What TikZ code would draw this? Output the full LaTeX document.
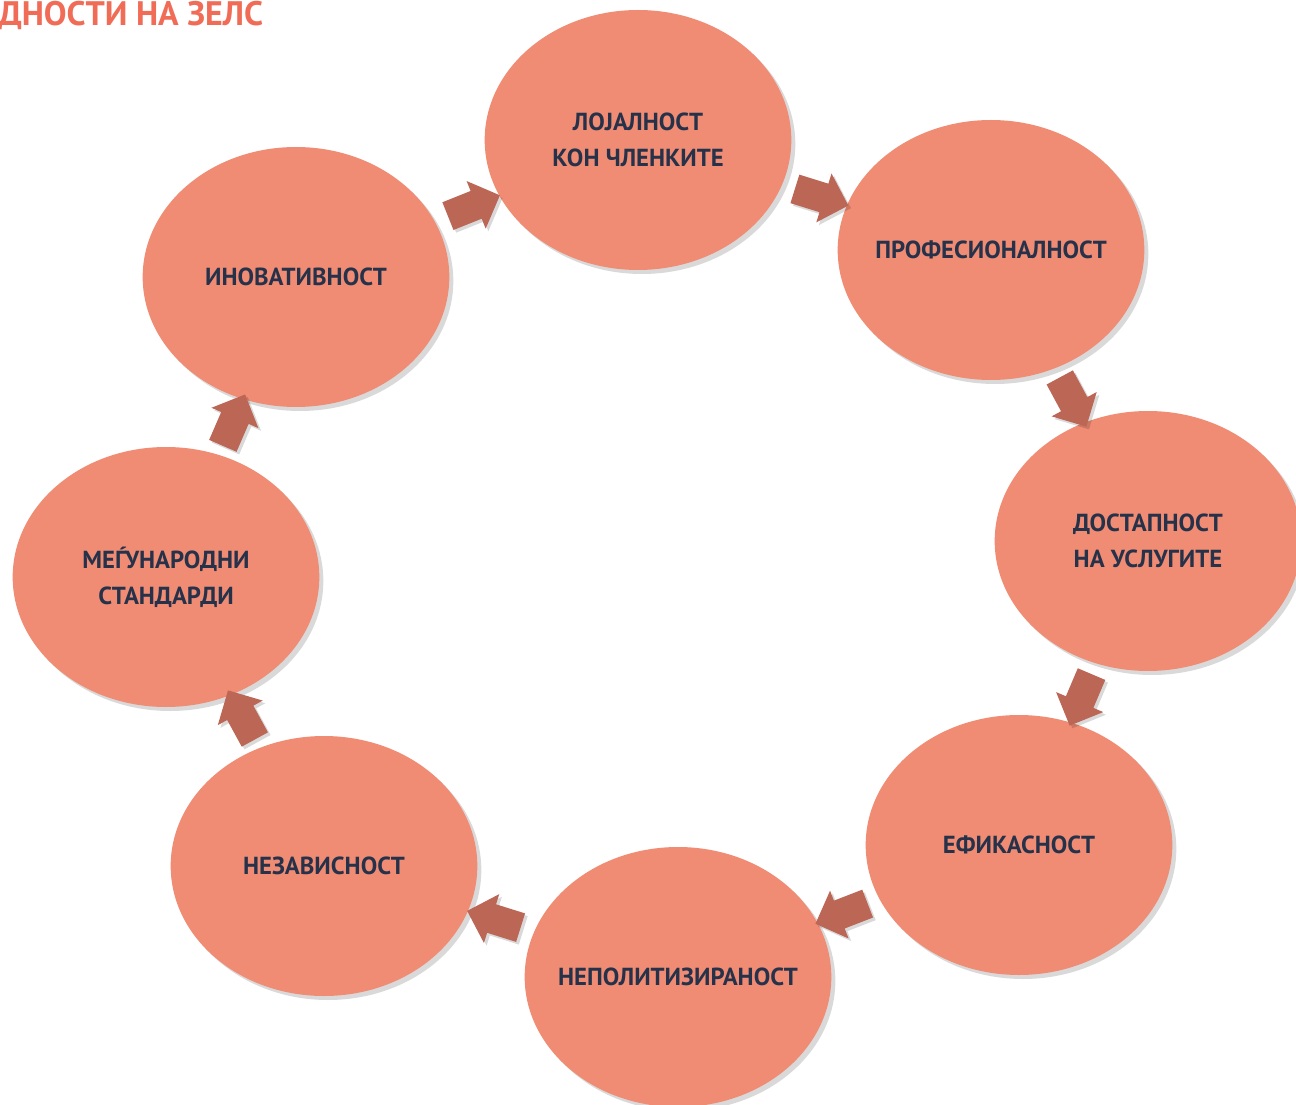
\documentclass[tikz,border=0pt]{standalone}
\usepackage{fontspec}
\setmainfont{PT Sans}
\usetikzlibrary{shapes.geometric,shapes.arrows,shadows,calc}

\definecolor{salmonfill}{RGB}{241,140,116}
\definecolor{navytext}{RGB}{38,50,74}
\definecolor{titleorange}{RGB}{241,108,86}
\definecolor{arrowfill}{RGB}{188,102,86}

\tikzset{
  valuebox/.style={ellipse, fill=salmonfill, inner sep=0pt,
    minimum width=230pt, minimum height=195pt,
    drop shadow={shadow xshift=3pt, shadow yshift=-3pt, opacity=0.15, fill=black}},
  valuetext/.style={align=center, inner sep=0pt, text=navytext,
    font=\bfseries\fontsize{18.5}{27}\selectfont},
  cyclearrow/.style={single arrow, fill=arrowfill, inner xsep=0pt, inner ysep=11pt,
    minimum height=42pt, single arrow head extend=8pt,
    drop shadow={shadow xshift=2pt, shadow yshift=-2pt, opacity=0.15, fill=black}}
}

\begin{document}
\begin{tikzpicture}[x=0.75pt,y=0.75pt,yscale=-1,xscale=1]

\useasboundingbox (0,0) rectangle (1296,1105);

% title (cut at the left edge)
\node [anchor=west, inner sep=0pt, text=titleorange, font=\bfseries\fontsize{25.5}{30}\selectfont] (title) at (-2,15) {ДНОСТИ НА ЗЕЛС};

% values
\node [valuebox, label={[valuetext]center:ЛОЈАЛНОСТ\\КОН ЧЛЕНКИТЕ}] (loyal) at (638,140) {};
\node [valuebox, label={[valuetext]center:ПРОФЕСИОНАЛНОСТ}] (prof) at (991,250) {};
\node [valuebox, label={[valuetext]center:ДОСТАПНОСТ\\НА УСЛУГИТЕ}] (access) at (1148,541) {};
\node [valuebox, label={[valuetext]center:ЕФИКАСНОСТ}] (effic) at (1019,845) {};
\node [valuebox, label={[valuetext]center:НЕПОЛИТИЗИРАНОСТ}] (nonpol) at (678,977) {};
\node [valuebox, label={[valuetext]center:НЕЗАВИСНОСТ}] (indep) at (324,866) {};
\node [valuebox, label={[valuetext]center:МЕЃУНАРОДНИ\\СТАНДАРДИ}] (intl) at (166,577) {};
\node [valuebox, label={[valuetext]center:ИНОВАТИВНОСТ}] (innov) at (296,277) {};

% arrows of the cycle
\path let \p1=($(loyal)-(innov)$) in ($(innov)!0.5!(loyal)$) node [cyclearrow, rotate={-atan2(\y1,\x1)}] (a1) {};
\path let \p1=($(prof)-(loyal)$) in ($(loyal)!0.5!(prof)$) node [cyclearrow, rotate={-atan2(\y1,\x1)}] (a2) {};
\path let \p1=($(access)-(prof)$) in ($(prof)!0.5!(access)$) node [cyclearrow, rotate={-atan2(\y1,\x1)}] (a3) {};
\path let \p1=($(effic)-(access)$) in ($(access)!0.5!(effic)$) node [cyclearrow, rotate={-atan2(\y1,\x1)}] (a4) {};
\path let \p1=($(nonpol)-(effic)$) in ($(effic)!0.5!(nonpol)$) node [cyclearrow, rotate={-atan2(\y1,\x1)}] (a5) {};
\path let \p1=($(indep)-(nonpol)$) in ($(nonpol)!0.5!(indep)$) node [cyclearrow, rotate={-atan2(\y1,\x1)}] (a6) {};
\path let \p1=($(intl)-(indep)$) in ($(indep)!0.5!(intl)$) node [cyclearrow, rotate={-atan2(\y1,\x1)}] (a7) {};
\path let \p1=($(innov)-(intl)$) in ($(intl)!0.5!(innov)$) node [cyclearrow, rotate={-atan2(\y1,\x1)}] (a8) {};

\end{tikzpicture}
\end{document}
